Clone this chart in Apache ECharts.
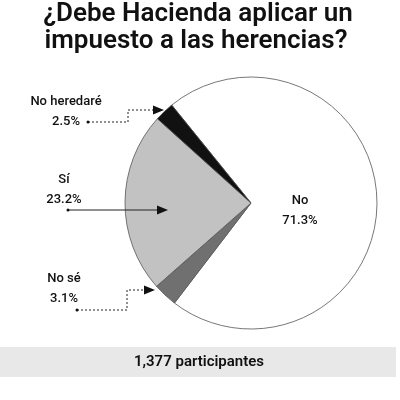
<!DOCTYPE html>
<html><head><meta charset="utf-8">
<script src="https://cdn.jsdelivr.net/npm/echarts@6/dist/echarts.min.js"></script>
<style>html,body{margin:0;padding:0;background:#fff}#c{width:400px;height:400px}</style>
</head><body><div id="c"></div>
<script>
const categories = ['No', 'No sé', 'Sí', 'No heredaré'];
const values = [71.3, 3.1, 23.2, 2.5];
const colors = ['#ffffff', '#707070', '#c2c2c2', '#111111'];
const titleLines = ['¿Debe Hacienda aplicar un', 'impuesto a las herencias?'];
const footer = '1,377 participantes';

const fmt = v => v.toFixed(1) + '%';
const F = 'Roboto, "Noto Sans", sans-serif';
const chart = echarts.init(document.getElementById('c'));

function label(name, x, y) {
  const i = categories.indexOf(name);
  return {
    type: 'text', x: x, y: y, z: 100,
    style: { text: categories[i] + '\n' + fmt(values[i]), fill: '#111', font: '500 13px ' + F,
             align: 'center', verticalAlign: 'middle', lineHeight: 20 }
  };
}
function path(points, dashed) {
  return { type: 'polyline', z: 100, shape: { points: points },
           style: { stroke: '#222', lineWidth: 1, lineDash: dashed ? [2, 2] : null, fill: null } };
}
function head(x, y) {
  return { type: 'polygon', z: 101, shape: { points: [[x, y], [x - 11, y - 4.5], [x - 11, y + 4.5]] }, style: { fill: '#111' } };
}
function dot(x, y) {
  return { type: 'circle', z: 101, shape: { cx: x, cy: y, r: 1.5 }, style: { fill: '#111' } };
}

chart.setOption({
  animation: false,
  graphic: [
    { type: 'text', x: 198, y: 14, style: { text: titleLines[0], font: '600 26px ' + F, fill: '#111', align: 'center', verticalAlign: 'middle' } },
    { type: 'text', x: 196, y: 41, style: { text: titleLines[1], font: '600 26px ' + F, fill: '#111', align: 'center', verticalAlign: 'middle' } },
    { type: 'rect', shape: { x: 0, y: 347, width: 396, height: 30 }, style: { fill: '#e8e8e8' } },
    { type: 'text', x: 199, y: 362, style: { text: footer, font: '600 15px ' + F, fill: '#111', align: 'center', verticalAlign: 'middle' } },
    label('No heredaré', 66, 112),
    label('Sí', 64, 190),
    label('No sé', 64, 289),
    path([[88, 122], [128, 122], [128, 110], [155, 110]], true), head(164, 110), dot(88, 122),
    path([[68, 210], [160, 210]], false), head(168, 210), dot(68, 210),
    path([[77, 310], [127, 310], [127, 290], [146, 290]], true), head(155, 290), dot(77, 310)
  ],
  series: [{
    type: 'pie',
    center: [251, 203],
    radius: [0, 126],
    startAngle: 129,
    clockwise: true,
    silent: true,
    z: 2,
    itemStyle: { borderColor: '#555', borderWidth: 0.8 },
    labelLine: { show: false },
    data: categories.map((c, i) => ({
      name: c, value: values[i], itemStyle: { color: colors[i] },
      label: i === 0 ? { show: true, position: 'inside', offset: [-17, 9],
        formatter: p => p.name + '\n' + fmt(p.value), color: '#111',
        fontFamily: F, fontSize: 13, fontWeight: 500, lineHeight: 20 } : { show: false }
    }))
  }]
});
</script></body></html>
